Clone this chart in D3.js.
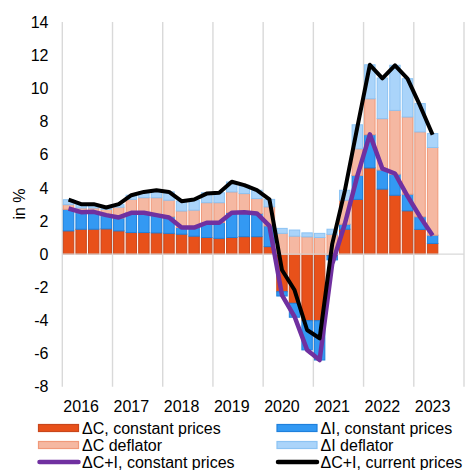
<!DOCTYPE html>
<html>
<head>
<meta charset="utf-8">
<script src="https://cdn.jsdelivr.net/npm/d3@7"></script>
<style>
	body { margin: 0; background: #fff; }
	text { font-family: "Liberation Sans", Arial, sans-serif; fill: #000; }
</style>
</head>
<body>
<div id="chart"></div>
<script>
var years = ["2016", "2017", "2018", "2019", "2020", "2021", "2022", "2023"];

// quarters 2016Q1 .. 2023Q4 (only the first 30 have data)
var quarters = [];
years.forEach(function(y) {
	["Q1", "Q2", "Q3", "Q4"].forEach(function(q) { quarters.push(y + q); });
});

var cConst = [1.40, 1.50, 1.50, 1.52, 1.40, 1.30, 1.30, 1.28, 1.25, 1.20, 1.08, 1.00, 0.95, 1.00, 1.05, 1.05,
	0.45, -2.27, -2.97, -4.02, -4.02, -0.10, 1.50, 3.30, 5.20, 3.92, 3.55, 2.61, 1.49, 0.64];
var iConst = [1.30, 1.00, 1.00, 0.80, 0.78, 1.20, 1.20, 1.07, 1.00, 0.40, 0.52, 0.90, 0.95, 1.50, 1.48, 1.40,
	1.25, -0.26, -0.84, -1.76, -2.37, -0.25, 0.30, 1.45, 2.00, 1.15, 1.27, 1.00, 0.76, 0.50];
var cDefl = [0.28, 0.28, 0.28, 0.38, 0.65, 0.80, 0.90, 1.05, 1.00, 1.00, 1.05, 1.20, 1.20, 1.25, 1.12, 0.90,
	1.15, 1.25, 1.08, 1.04, 1.00, 1.19, 1.45, 1.60, 2.17, 3.10, 3.85, 4.66, 5.12, 5.29];
var iDefl = [0.30, 0.25, 0.22, 0.15, 0.15, 0.25, 0.35, 0.45, 0.50, 0.60, 0.60, 0.60, 0.60, 0.60, 0.50, 0.50,
	0.45, 0.30, 0.37, 0.24, 0.25, 0.31, 0.60, 1.45, 2.05, 2.45, 2.72, 2.31, 1.71, 0.84];
var ciConst = [2.75, 2.53, 2.55, 2.35, 2.21, 2.49, 2.49, 2.35, 2.21, 1.61, 1.60, 1.89, 1.89, 2.49, 2.53, 2.45,
	1.70, -2.47, -3.77, -5.78, -6.39, -0.60, 1.80, 4.70, 7.22, 5.15, 4.86, 3.50, 2.25, 1.12];
var ciCurrent = [3.29, 3.01, 3.01, 2.81, 3.01, 3.55, 3.75, 3.85, 3.75, 3.19, 3.29, 3.65, 3.70, 4.36, 4.16, 3.86,
	3.30, -0.96, -2.17, -4.58, -5.08, 0.60, 3.80, 7.65, 11.42, 10.60, 11.39, 10.58, 8.95, 7.20];

var yTicks = [-8, -6, -4, -2, 0, 2, 4, 6, 8, 10, 12, 14];

var seriesKeys = ["cConst", "iConst", "cDefl", "iDefl"];
var seriesNames = ["\u0394C, constant prices", "\u0394I, constant prices", "\u0394C deflator", "\u0394I deflator"];
var fills = ["#e8511a", "#3399f3", "#f5b8a2", "#aad4fa"];
var edges = ["#c9461b", "#1f80dc", "#f0997a", "#8cc3f3"];

var width = 466,
	height = 470;

var svg = d3.select("#chart").append("svg")
	.attr("width", width)
	.attr("height", height);

var x = d3.scaleBand().domain(quarters).range([62.3, 464]).paddingInner(0.09).paddingOuter(0.045);
var y = d3.scaleLinear().domain([-8, 14]).range([386.7, 22]);

// table for d3.stack
var table = cConst.map(function(d, i) {
	return { q: quarters[i], cConst: cConst[i], iConst: iConst[i], cDefl: cDefl[i], iDefl: iDefl[i] };
});

var stacked = d3.stack().keys(seriesKeys).offset(d3.stackOffsetDiverging)(table);

// year gridlines
var step = x.step();
var gridX = d3.range(years.length + 1).map(function(i) { return x.range()[0] + i * step * 4; });

svg.append("g").selectAll("line")
	.data(gridX)
	.enter()
	.append("line")
	.attr("x1", function(d) { return d; })
	.attr("x2", function(d) { return d; })
	.attr("y1", y(14))
	.attr("y2", y(-8))
	.style("stroke", "#d9d9d9")
	.style("stroke-width", 1.4);

// bars
var layers = svg.append("g").selectAll("g")
	.data(stacked)
	.enter()
	.append("g")
	.style("fill", function(d, i) { return fills[i]; })
	.style("stroke", function(d, i) { return edges[i]; })
	.style("stroke-width", 1);

layers.selectAll("rect")
	.data(function(d) { return d; })
	.enter()
	.append("rect")
	.attr("x", function(d) { return x(d.data.q) + 0.5; })
	.attr("width", x.bandwidth() - 1)
	.attr("y", function(d) { return y(Math.max(d[0], d[1])); })
	.attr("height", function(d) { return Math.abs(y(d[0]) - y(d[1])); });

// zero line
svg.append("line")
	.attr("x1", x.range()[0])
	.attr("x2", x.range()[1])
	.attr("y1", y(0))
	.attr("y2", y(0))
	.style("stroke", "#d9d9d9")
	.style("stroke-width", 1.4);

var line = d3.line()
	.x(function(d, i) { return x(quarters[i]) + x.bandwidth() / 2; })
	.y(function(d) { return y(d); });

svg.append("path")
	.attr("d", line(ciConst))
	.style("fill", "none")
	.style("stroke", "#7030a0")
	.style("stroke-width", 4.5)
	.style("stroke-linejoin", "round");

svg.append("path")
	.attr("d", line(ciCurrent))
	.style("fill", "none")
	.style("stroke", "#000")
	.style("stroke-width", 4)
	.style("stroke-linejoin", "round");

// y axis labels
svg.append("g").selectAll("text")
	.data(yTicks)
	.enter()
	.append("text")
	.attr("x", 48.5)
	.attr("y", function(d) { return y(d); })
	.attr("dy", "0.36em")
	.attr("text-anchor", "end")
	.style("font-size", "16px")
	.text(function(d) { return d; });

svg.append("text")
	.attr("transform", "translate(25,204) rotate(-90)")
	.attr("text-anchor", "middle")
	.style("font-size", "16px")
	.text("in %");

// year labels, under the second quarter of each year
svg.append("g").selectAll("text")
	.data(years)
	.enter()
	.append("text")
	.attr("x", function(d) { return x(d + "Q2") + x.bandwidth() / 2; })
	.attr("y", 412)
	.attr("text-anchor", "middle")
	.style("font-size", "16px")
	.text(function(d) { return d; });

// legend
var legendItems = [
	{ name: seriesNames[0], type: "rect", i: 0, col: 0, row: 0 },
	{ name: seriesNames[1], type: "rect", i: 1, col: 1, row: 0 },
	{ name: seriesNames[2], type: "rect", i: 2, col: 0, row: 1 },
	{ name: seriesNames[3], type: "rect", i: 3, col: 1, row: 1 },
	{ name: "\u0394C+I, constant prices", type: "line", color: "#7030a0", col: 0, row: 2 },
	{ name: "\u0394C+I, current prices", type: "line", color: "#000", col: 1, row: 2 }
];
var colX = [38.5, 277];
var rowY = [428, 445, 462];

var leg = svg.append("g").selectAll("g")
	.data(legendItems)
	.enter()
	.append("g")
	.attr("transform", function(d) { return "translate(" + colX[d.col] + "," + rowY[d.row] + ")"; });

leg.filter(function(d) { return d.type == "rect"; })
	.append("rect")
	.attr("x", 0)
	.attr("y", -3.5)
	.attr("width", 40)
	.attr("height", 7)
	.style("fill", function(d) { return fills[d.i]; })
	.style("stroke", function(d) { return edges[d.i]; })
	.style("stroke-width", 1.2);

leg.filter(function(d) { return d.type == "line"; })
	.append("line")
	.attr("x1", 1)
	.attr("x2", 40)
	.attr("y1", 0)
	.attr("y2", 0)
	.style("stroke", function(d) { return d.color; })
	.style("stroke-width", 4.5)
	.style("stroke-linecap", "round");

leg.append("text")
	.attr("x", 43.5)
	.attr("y", 0)
	.attr("dy", "0.36em")
	.style("font-size", "16px")
	.text(function(d) { return d.name; });
</script>
</body>
</html>
